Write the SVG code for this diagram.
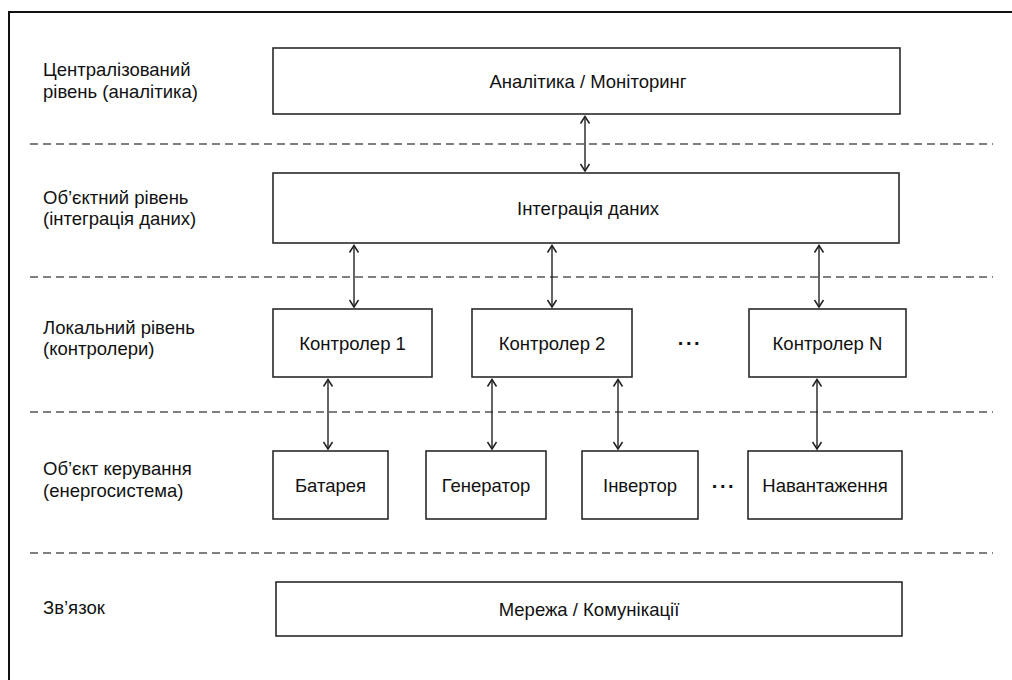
<svg xmlns="http://www.w3.org/2000/svg" width="1012" height="680" viewBox="0 0 1012 680">
<defs>
<marker id="ah" viewBox="-10 -6 12 12" refX="0" refY="0" markerWidth="12" markerHeight="12" markerUnits="userSpaceOnUse" orient="auto-start-reverse">
<path d="M-7,-4.5 L0,0 L-7,4.5" fill="none" stroke="#222" stroke-width="1.5" stroke-linejoin="miter"/>
</marker>
</defs>
<style>
.box{fill:#fff;stroke:#2a2a2a;stroke-width:1.6}
.t{font-family:"Liberation Sans",Arial,Helvetica,sans-serif;font-size:18.5px;fill:#111}
.c{text-anchor:middle}
.dots{font-family:"Liberation Sans",Arial,Helvetica,sans-serif;font-size:20px;fill:#111;text-anchor:middle;font-weight:bold}
.dash{stroke:#555;stroke-width:1.5;stroke-dasharray:8 5;fill:none}
.arr{stroke:#222;stroke-width:1.4;fill:none;marker-start:url(#ah);marker-end:url(#ah)}
</style>
<rect x="0" y="0" width="1012" height="680" fill="#fff"/>
<rect x="9" y="12" width="1020" height="700" fill="none" stroke="#111" stroke-width="2"/>
<g id="separators">
<line class="dash" x1="30" y1="144" x2="993" y2="144"/>
<line class="dash" x1="30" y1="277" x2="993" y2="277"/>
<line class="dash" x1="30" y1="412" x2="993" y2="412"/>
<line class="dash" x1="30" y1="553" x2="993" y2="553"/>
</g>
<g id="layer-labels">
<text class="t" x="43" y="76">Централізований</text>
<text class="t" x="43" y="98">рівень (аналітика)</text>
<text class="t" x="43" y="204">Об’єктний рівень</text>
<text class="t" x="43" y="225">(інтеграція даних)</text>
<text class="t" x="43" y="334">Локальний рівень</text>
<text class="t" x="43" y="355">(контролери)</text>
<text class="t" x="43" y="475">Об’єкт керування</text>
<text class="t" x="43" y="497">(енергосистема)</text>
<text class="t" x="43" y="614">Зв’язок</text>
</g>
<g id="analytics">
<rect class="box" x="273" y="48" width="627" height="66"/>
<text class="t c" x="588" y="87.5">Аналітика / Моніторинг</text>
</g>
<g id="integration">
<rect class="box" x="273" y="173" width="626" height="70"/>
<text class="t c" x="588" y="214.5">Інтеграція даних</text>
</g>
<g id="controller1">
<rect class="box" x="273" y="309" width="159" height="68"/>
<text class="t c" x="352.5" y="349.5">Контролер 1</text>
</g>
<g id="controller2">
<rect class="box" x="472" y="309" width="160" height="68"/>
<text class="t c" x="552" y="349.5">Контролер 2</text>
</g>
<g id="dots-controllers">
<text class="dots" x="690" y="350" letter-spacing="1.5">···</text>
</g>
<g id="controllerN">
<rect class="box" x="749" y="309" width="157" height="68"/>
<text class="t c" x="827.5" y="349.5">Контролер N</text>
</g>
<g id="battery">
<rect class="box" x="273" y="451" width="115" height="68"/>
<text class="t c" x="330.5" y="491.5">Батарея</text>
</g>
<g id="generator">
<rect class="box" x="426" y="451" width="120" height="68"/>
<text class="t c" x="486" y="491.5">Генератор</text>
</g>
<g id="inverter">
<rect class="box" x="582" y="451" width="116" height="68"/>
<text class="t c" x="640" y="491.5">Інвертор</text>
</g>
<g id="dots-objects">
<text class="dots" x="724" y="493" letter-spacing="1.5">···</text>
</g>
<g id="load">
<rect class="box" x="748" y="451" width="154" height="68"/>
<text class="t c" x="825" y="491.5">Навантаження</text>
</g>
<g id="network">
<rect class="box" x="276" y="582" width="626" height="54"/>
<text class="t c" x="589" y="615.5">Мережа / Комунікації</text>
</g>
<g id="connectors">
<line class="arr" x1="585" y1="116.5" x2="585" y2="171"/>
<line class="arr" x1="354" y1="245.5" x2="354" y2="307"/>
<line class="arr" x1="552" y1="245.5" x2="552" y2="307"/>
<line class="arr" x1="819" y1="245.5" x2="819" y2="307"/>
<line class="arr" x1="328" y1="379.5" x2="328" y2="449"/>
<line class="arr" x1="492" y1="379.5" x2="492" y2="449"/>
<line class="arr" x1="618" y1="379.5" x2="618" y2="449"/>
<line class="arr" x1="817" y1="379.5" x2="817" y2="449"/>
</g>
</svg>
